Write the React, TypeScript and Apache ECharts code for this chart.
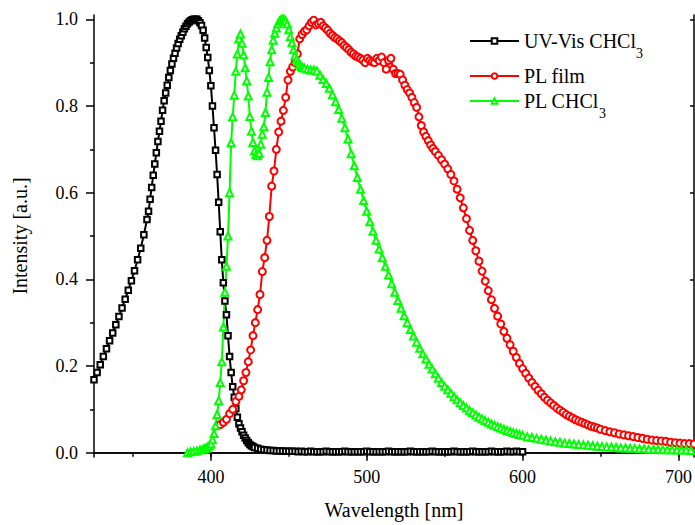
import React, { useEffect, useRef } from 'react';
import * as echarts from 'echarts';

const xMajorTicks = [400, 500, 600, 700];
const xMinorTicks = [350, 450, 550, 650];
const yMajorTicks = [0, 0.2, 0.4, 0.6, 0.8, 1];
const yMinorTicks = [0.1, 0.3, 0.5, 0.7, 0.9];

const seriesNames = ['UV-Vis CHCl3', 'PL film', 'PL CHCl3'];

const uvVisCHCl3: [number, number][] = [
  [325, 0.168], [327, 0.185], [329, 0.203], [331, 0.222], [333, 0.24], [335, 0.258], [337, 0.276], [339, 0.295],
  [341, 0.314], [343, 0.334], [345, 0.354], [347, 0.375], [349, 0.397], [351, 0.42], [353, 0.445], [355, 0.472],
  [357, 0.503], [359, 0.538], [360, 0.557], [361, 0.585], [362, 0.612], [363, 0.64], [364, 0.666], [365, 0.692],
  [366, 0.718], [367, 0.742], [368, 0.765], [369, 0.79], [370, 0.812], [371, 0.83], [372, 0.848], [373, 0.866],
  [374, 0.882], [375, 0.897], [376, 0.91], [377, 0.922], [378, 0.934], [379, 0.944], [380, 0.954], [381, 0.962],
  [382, 0.97], [383, 0.978], [384, 0.984], [385, 0.99], [386, 0.994], [387, 0.997], [388, 0.999], [389, 1.0],
  [390, 1.0], [391, 1.0], [392, 0.997], [393, 0.992], [394, 0.986], [395, 0.975], [396, 0.957], [397, 0.935],
  [398, 0.912], [399, 0.882], [400, 0.847], [401, 0.8], [402, 0.75], [403, 0.698], [404, 0.642], [405, 0.578],
  [406, 0.51], [407, 0.445], [408, 0.392], [409, 0.35], [410, 0.318], [411, 0.27], [412, 0.222], [413, 0.185],
  [414, 0.152], [415, 0.128], [416, 0.102], [417, 0.082], [418, 0.067], [419, 0.057], [420, 0.048], [421, 0.04],
  [422, 0.034], [423, 0.028], [424, 0.023], [425, 0.019], [426, 0.016], [427, 0.014], [428, 0.012], [430, 0.01],
  [432, 0.008], [434, 0.007], [436, 0.006], [438, 0.005], [440, 0.005], [442, 0.004], [444, 0.004], [446, 0.004],
  [448, 0.003], [450, 0.003], [452, 0.003], [454, 0.003], [456, 0.002], [458, 0.003], [460, 0.002], [462, 0.002],
  [464, 0.003], [466, 0.002], [468, 0.002], [470, 0.002], [472, 0.002], [474, 0.003], [476, 0.002], [478, 0.002],
  [480, 0.002], [482, 0.002], [484, 0.002], [486, 0.003], [488, 0.002], [490, 0.002], [492, 0.002], [494, 0.002],
  [496, 0.002], [498, 0.002], [500, 0.003], [502, 0.002], [504, 0.002], [506, 0.002], [508, 0.002], [510, 0.002],
  [512, 0.002], [514, 0.003], [516, 0.002], [518, 0.002], [520, 0.002], [522, 0.002], [524, 0.002], [526, 0.002],
  [528, 0.003], [530, 0.002], [532, 0.002], [534, 0.002], [536, 0.002], [538, 0.002], [540, 0.002], [542, 0.003],
  [544, 0.002], [546, 0.002], [548, 0.002], [550, 0.002], [552, 0.002], [554, 0.002], [556, 0.003], [558, 0.002],
  [560, 0.002], [562, 0.002], [564, 0.002], [566, 0.002], [568, 0.003], [570, 0.002], [572, 0.002], [574, 0.002],
  [576, 0.002], [578, 0.002], [580, 0.003], [582, 0.002], [584, 0.002], [586, 0.002], [588, 0.002], [590, 0.003],
  [592, 0.002], [594, 0.002], [596, 0.003], [598, 0.002], [600, 0.002],
];

const plFilm: [number, number][] = [
  [406, 0.065], [408, 0.07], [410, 0.077], [412, 0.09], [414, 0.1], [416, 0.118], [418, 0.13], [419.5, 0.145],
  [421, 0.166], [422.5, 0.185], [424, 0.21], [425.5, 0.237], [427, 0.27], [428.5, 0.3], [430, 0.33], [431.5, 0.365],
  [433, 0.418], [434.5, 0.45], [436, 0.49], [437.5, 0.545], [439, 0.615], [440.5, 0.65], [442, 0.7], [443.5, 0.74],
  [445, 0.765], [446.5, 0.79], [448, 0.82], [449.5, 0.86], [451, 0.88], [452.5, 0.89], [454, 0.9], [455.5, 0.92],
  [457, 0.955], [458.5, 0.965], [460, 0.972], [461.5, 0.976], [463, 0.985], [464.5, 0.993], [466, 0.998], [467.5, 0.987],
  [469, 0.99], [470.5, 0.993], [472, 0.985], [473.5, 0.98], [475, 0.975], [476.5, 0.968], [478, 0.963], [479.5, 0.958],
  [481, 0.955], [482.5, 0.95], [484, 0.946], [485.5, 0.94], [487, 0.935], [488.5, 0.93], [490, 0.924], [491.5, 0.92],
  [493, 0.915], [494.5, 0.913], [496, 0.91], [497.5, 0.906], [499, 0.9], [500.5, 0.91], [502, 0.905], [503.5, 0.902],
  [505, 0.9], [506.5, 0.91], [508, 0.905], [509.5, 0.913], [511, 0.9], [512.5, 0.885], [514, 0.905], [515.5, 0.91],
  [517, 0.885], [518.5, 0.875], [520, 0.875], [521.5, 0.873], [523, 0.86], [524.5, 0.848], [526, 0.838], [527.5, 0.83],
  [529, 0.82], [530.5, 0.808], [532, 0.797], [533.5, 0.775], [535, 0.755], [536.5, 0.74], [538, 0.73], [539.5, 0.72],
  [541, 0.71], [542.5, 0.702], [544, 0.695], [546, 0.686], [548, 0.676], [550, 0.666], [552, 0.655], [554, 0.642],
  [556, 0.627], [558, 0.608], [560, 0.588], [562, 0.565], [564, 0.54], [566, 0.513], [568, 0.49], [570, 0.466],
  [572, 0.442], [574, 0.419], [576, 0.396], [578, 0.374], [580, 0.353], [582, 0.333], [584, 0.315], [586, 0.297],
  [588, 0.28], [590, 0.264], [592, 0.249], [594, 0.234], [596, 0.22], [598, 0.206], [600, 0.194], [602, 0.183],
  [604, 0.172], [606, 0.162], [608, 0.153], [610, 0.144], [612, 0.136], [614, 0.128], [616, 0.121], [618, 0.115],
  [620, 0.109], [622, 0.103], [624, 0.098], [626, 0.093], [628, 0.088], [630, 0.084], [632, 0.08], [634, 0.076],
  [636, 0.073], [638, 0.07], [640, 0.067], [642, 0.064], [644, 0.061], [646, 0.059], [648, 0.057], [650, 0.054],
  [653, 0.051], [656, 0.048], [659, 0.046], [662, 0.043], [665, 0.041], [668, 0.039], [671, 0.037], [674, 0.035],
  [677, 0.033], [680, 0.031], [683, 0.029], [686, 0.028], [689, 0.027], [692, 0.026], [695, 0.024], [698, 0.023],
  [701, 0.022], [704, 0.021], [707, 0.021], [710, 0.02],
];

const plCHCl3: [number, number][] = [
  [385, 0.0], [387, 0.002], [389, 0.003], [391, 0.004], [393, 0.006], [395, 0.008], [396, 0.009], [397, 0.011],
  [398, 0.013], [399, 0.016], [400, 0.02], [401, 0.03], [402, 0.044], [403, 0.062], [404, 0.088], [405, 0.12],
  [406, 0.162], [407, 0.21], [408, 0.29], [409, 0.37], [410, 0.43], [411, 0.5], [412, 0.6], [413, 0.715],
  [414, 0.775], [415, 0.825], [416, 0.88], [417, 0.92], [418, 0.955], [419, 0.966], [420, 0.945], [421, 0.918],
  [422, 0.888], [423, 0.858], [424, 0.823], [425, 0.776], [426, 0.742], [427, 0.716], [428, 0.697], [429, 0.688],
  [430, 0.685], [431, 0.691], [432, 0.712], [433, 0.735], [434, 0.752], [435, 0.785], [436, 0.832], [437, 0.866],
  [438, 0.902], [439, 0.93], [440, 0.952], [441, 0.968], [442, 0.98], [443, 0.99], [444, 0.996], [445, 0.999],
  [446, 1.0], [447, 1.0], [448, 0.996], [449, 0.989], [450, 0.976], [451, 0.96], [452, 0.946], [453, 0.93],
  [454, 0.916], [455, 0.908], [456, 0.902], [457, 0.896], [458, 0.891], [459, 0.889], [460, 0.887], [462, 0.885],
  [464, 0.883], [466, 0.883], [468, 0.881], [470, 0.871], [472, 0.861], [474, 0.852], [476, 0.841], [478, 0.826],
  [480, 0.81], [482, 0.792], [484, 0.772], [486, 0.75], [488, 0.724], [490, 0.69], [492, 0.662], [494, 0.635],
  [496, 0.608], [498, 0.582], [500, 0.557], [502, 0.533], [504, 0.511], [506, 0.49], [508, 0.47], [510, 0.45],
  [512, 0.43], [514, 0.41], [516, 0.39], [518, 0.37], [520, 0.351], [522, 0.333], [524, 0.316], [526, 0.3],
  [528, 0.284], [530, 0.269], [532, 0.255], [534, 0.241], [536, 0.228], [538, 0.216], [540, 0.204], [542, 0.193],
  [544, 0.182], [546, 0.172], [548, 0.162], [550, 0.153], [552, 0.145], [554, 0.137], [556, 0.129], [558, 0.122],
  [560, 0.115], [562, 0.109], [564, 0.103], [566, 0.097], [568, 0.092], [570, 0.087], [572, 0.082], [574, 0.078],
  [576, 0.074], [578, 0.07], [580, 0.066], [582, 0.063], [584, 0.06], [586, 0.057], [588, 0.054], [590, 0.051],
  [592, 0.049], [594, 0.046], [596, 0.044], [598, 0.042], [600, 0.04], [603, 0.037], [606, 0.035], [609, 0.033],
  [612, 0.031], [615, 0.029], [618, 0.027], [621, 0.025], [624, 0.024], [627, 0.022], [630, 0.021], [633, 0.02],
  [636, 0.019], [639, 0.018], [642, 0.017], [645, 0.016], [648, 0.015], [651, 0.014], [654, 0.013], [657, 0.013],
  [660, 0.012], [663, 0.011], [666, 0.011], [669, 0.01], [672, 0.01], [675, 0.009], [678, 0.009], [681, 0.008],
  [684, 0.008], [687, 0.008], [690, 0.007], [693, 0.007], [696, 0.007], [699, 0.006], [702, 0.006], [705, 0.006],
  [708, 0.005], [711, 0.005],
];

const FONT = "'Liberation Serif', 'Times New Roman', Times, serif";
const AXIS_COLOR = '#000';

export default function App() {
  const ref = useRef<HTMLDivElement>(null);

  useEffect(() => {
    if (!ref.current) return;
    const chart = echarts.init(ref.current, null, { renderer: 'svg' });

    const axisLineStyle = { color: AXIS_COLOR, width: 1.5 };
    const xMin = 325;
    const xMax = 710;
    const yMin = -0.01;
    const yMax = 1.01;

    const legendRich = {
      m: { fontSize: 20, fontFamily: FONT, color: '#000', padding: [9, 0, 0, 0], verticalAlign: 'top' },
      s: { fontSize: 14, fontFamily: FONT, color: '#000', padding: [24, 0, 0, 0], verticalAlign: 'top' },
      p: { fontSize: 20, fontFamily: FONT, color: '#000' },
    };
    const legendFormatter = (name: string) =>
      name === 'PL film' ? '{p|PL film}' : `{m|${name.slice(0, -1)}}{s|${name.slice(-1)}}`;
    const legendBase = {
      orient: 'vertical',
      left: 469,
      padding: 0,
      itemWidth: 49,
      itemHeight: 7,
      itemGap: 0,
      selectedMode: false,
      formatter: legendFormatter,
      textStyle: { fontSize: 20, fontFamily: FONT, color: '#000', rich: legendRich },
    };

    const option: any = {
      animation: false,
      backgroundColor: '#fff',
      textStyle: { fontFamily: FONT },
      grid: { left: 94, right: 1, top: 15, bottom: 67.5, containLabel: false },
      legend: [
        { ...legendBase, top: 31, data: [seriesNames[0]] },
        { ...legendBase, top: 66, data: [seriesNames[1]] },
        { ...legendBase, top: 91, data: [seriesNames[2]] },
      ],
      xAxis: [
        {
          type: 'value', position: 'bottom', min: xMin, max: xMax,
          axisLine: { show: true, lineStyle: axisLineStyle },
          axisTick: { show: true, customValues: xMajorTicks, length: 8, lineStyle: axisLineStyle },
          axisLabel: { customValues: xMajorTicks, margin: 11, fontSize: 18, fontFamily: FONT, color: '#000' },
          splitLine: { show: false },
          name: 'Wavelength [nm]', nameLocation: 'middle', nameGap: 43,
          nameTextStyle: { fontSize: 20, fontFamily: FONT, color: '#000' },
        },
        {
          type: 'value', position: 'bottom', min: xMin, max: xMax,
          axisLine: { show: false },
          axisTick: { show: true, customValues: xMinorTicks, length: 4, lineStyle: axisLineStyle },
          axisLabel: { show: false }, splitLine: { show: false },
        },
        {
          type: 'value', position: 'top', min: xMin, max: xMax,
          axisLine: { show: true, lineStyle: axisLineStyle },
          axisTick: { show: true, inside: true, customValues: xMajorTicks, length: 4, lineStyle: axisLineStyle },
          axisLabel: { show: false }, splitLine: { show: false },
        },
      ],
      yAxis: [
        {
          type: 'value', position: 'left', min: yMin, max: yMax,
          axisLine: { show: true, lineStyle: axisLineStyle },
          axisTick: { show: true, customValues: yMajorTicks, length: 8, lineStyle: axisLineStyle },
          axisLabel: {
            customValues: yMajorTicks, margin: 16, fontSize: 18, fontFamily: FONT, color: '#000',
            formatter: (v: number) => v.toFixed(1),
          },
          splitLine: { show: false },
          name: 'Intensity [a.u.]', nameLocation: 'middle', nameGap: 64,
          nameTextStyle: { fontSize: 20, fontFamily: FONT, color: '#000' },
        },
        {
          type: 'value', position: 'left', min: yMin, max: yMax,
          axisLine: { show: false },
          axisTick: { show: true, customValues: yMinorTicks, length: 4, lineStyle: axisLineStyle },
          axisLabel: { show: false }, splitLine: { show: false },
        },
        {
          type: 'value', position: 'right', min: yMin, max: yMax,
          axisLine: { show: true, lineStyle: axisLineStyle },
          axisTick: { show: true, inside: true, customValues: yMajorTicks, length: 4, lineStyle: axisLineStyle },
          axisLabel: { show: false }, splitLine: { show: false },
        },
      ],
      series: [
        {
          type: 'line', name: seriesNames[0], data: uvVisCHCl3, xAxisIndex: 0, yAxisIndex: 0,
          color: '#000', symbol: 'emptyRect', symbolSize: 5.5, showAllSymbol: true, clip: true,
          lineStyle: { color: '#000', width: 2 }, itemStyle: { color: '#000', borderWidth: 1 },
        },
        {
          type: 'line', name: seriesNames[1], data: plFilm, xAxisIndex: 0, yAxisIndex: 0,
          color: '#ff0000', symbol: 'emptyCircle', symbolSize: 7, showAllSymbol: true, clip: true,
          lineStyle: { color: '#ff0000', width: 2 }, itemStyle: { color: '#ff0000', borderWidth: 1 },
        },
        {
          type: 'line', name: seriesNames[2], data: plCHCl3, xAxisIndex: 0, yAxisIndex: 0,
          color: '#00ff00', symbol: 'emptyTriangle', symbolSize: 7, showAllSymbol: true, clip: true,
          lineStyle: { color: '#00ff00', width: 2 }, itemStyle: { color: '#00ff00', borderWidth: 1 },
        },
      ],
    };

    chart.setOption(option);
    return () => chart.dispose();
  }, []);

  return (
    <div
      ref={ref}
      style={{ position: 'fixed', left: 0, top: 0, width: 695, height: 525, background: '#fff' }}
    />
  );
}
